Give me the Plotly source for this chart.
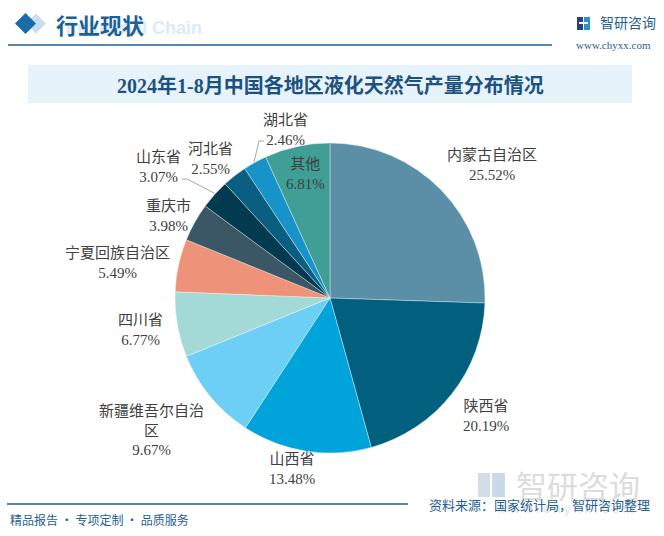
import plotly.graph_objects as go

# ---------------- data ----------------
regions = ["内蒙古自治区", "陕西省", "山西省", "新疆维吾尔自治区", "四川省", "宁夏回族自治区",
           "重庆市", "山东省", "河北省", "湖北省", "其他"]
shares = [25.52, 20.19, 13.48, 9.67, 6.77, 5.49, 3.98, 3.07, 2.55, 2.46, 6.81]
title_text = "2024年1-8月中国各地区液化天然气产量分布情况"

# ---------------- styles / layout ----------------
W, H = 664, 536
slice_colors = ["#5B8FA8", "#02607F", "#00A3DA", "#6DCFF6", "#A3D9D7", "#EF927A",
                "#3B5766", "#023A50", "#0A5F80", "#1793C9", "#3F9E95"]
# label display names (line breaks) and label block centers in pixels
label_names = {"新疆维吾尔自治区": "新疆维吾尔自治<br>区"}
label_pos_px = [(492, 165), (486, 416), (292, 469), (151, 430), (140, 330), (117, 263),
                (168, 216), (158, 167), (210, 159), (285, 130), (305, 174)]

CJK = "Noto Sans CJK SC"
LABEL_FONT = "Liberation Serif, Noto Sans CJK SC"
BLUE = "#1F5F93"


def px(x):
    return x / W


def py(y):
    return 1 - y / H


cx, cy, r = 330, 298, 155

fig = go.Figure()
fig.add_trace(go.Pie(
    labels=regions,
    values=shares,
    sort=False,
    direction="clockwise",
    rotation=0,
    textinfo="none",
    marker=dict(colors=slice_colors, line=dict(color="rgba(255,255,255,0.6)", width=0.6)),
    domain=dict(x=[px(cx - r), px(cx + r)], y=[py(cy + r), py(cy - r)]),
    showlegend=False,
))

annotations = []
shapes = []

# header watermark text
annotations.append(dict(x=px(204), y=py(28), xref="paper", yref="paper", xanchor="right", yanchor="middle",
                        text="<b>Industrial Chain</b>", showarrow=False,
                        font=dict(family="Liberation Sans, Arial", size=18, color="#DCEBF8")))
# header title
annotations.append(dict(x=px(54), y=py(24), xref="paper", yref="paper", xanchor="left", yanchor="middle",
                        text="<b>行业现状</b>", showarrow=False,
                        font=dict(family=CJK, size=22, color="#1B6199")))
# diamonds
shapes.append(dict(type="path", xref="paper", yref="paper", layer="above",
                   path=f"M {px(36)},{py(13.5)} L {px(46)},{py(23.5)} L {px(36)},{py(33.5)} L {px(26)},{py(23.5)} Z",
                   fillcolor="#C9DDEC", line=dict(width=0)))
shapes.append(dict(type="path", xref="paper", yref="paper", layer="above",
                   path=f"M {px(25.5)},{py(13)} L {px(36)},{py(23.5)} L {px(25.5)},{py(34)} L {px(15)},{py(23.5)} Z",
                   fillcolor="#1B6BA8", line=dict(width=0)))
# header line
shapes.append(dict(type="line", xref="paper", yref="paper", x0=px(8), x1=px(552), y0=py(45), y1=py(45),
                   line=dict(color=BLUE, width=1.5)))

# right logo
shapes.append(dict(type="rect", xref="paper", yref="paper", x0=px(577), x1=px(583), y0=py(17), y1=py(30),
                   fillcolor="#2B3E7E", line=dict(width=0)))
shapes.append(dict(type="rect", xref="paper", yref="paper", x0=px(584), x1=px(590), y0=py(17), y1=py(30),
                   fillcolor="#2E8FD0", line=dict(width=0)))
shapes.append(dict(type="rect", xref="paper", yref="paper", x0=px(579), x1=px(588), y0=py(22), y1=py(24),
                   fillcolor="white", line=dict(width=0)))
annotations.append(dict(x=px(598), y=py(22), xref="paper", yref="paper", xanchor="left", yanchor="middle",
                        text="智研咨询", showarrow=False, font=dict(family=CJK, size=14, color=BLUE)))
annotations.append(dict(x=px(613), y=py(45), xref="paper", yref="paper", xanchor="center", yanchor="middle",
                        text="www.chyxx.com", showarrow=False,
                        font=dict(family="Liberation Serif", size=11, color=BLUE)))

# title bar
shapes.append(dict(type="rect", xref="paper", yref="paper", x0=px(28), x1=px(632), y0=py(103), y1=py(65),
                   fillcolor="#E6F3FB", line=dict(width=0), layer="below"))
annotations.append(dict(x=px(330), y=py(86), xref="paper", yref="paper", xanchor="center", yanchor="middle",
                        text=f"<b>{title_text}</b>", showarrow=False,
                        font=dict(family="Liberation Serif, " + CJK, size=20, color="#1D527F")))

# bottom-right watermark
shapes.append(dict(type="rect", xref="paper", yref="paper", x0=px(478), x1=px(490), y0=py(473), y1=py(497),
                   fillcolor="#D3DDE7", line=dict(width=0), layer="below"))
shapes.append(dict(type="rect", xref="paper", yref="paper", x0=px(492), x1=px(505), y0=py(473), y1=py(497),
                   fillcolor="#C9D9EA", line=dict(width=0), layer="below"))
annotations.append(dict(x=px(514), y=py(484), xref="paper", yref="paper", xanchor="left", yanchor="middle",
                        text="智研咨询", showarrow=False, font=dict(family=CJK, size=31, color="#DCDCDC")))
annotations.append(dict(x=px(565), y=py(508), xref="paper", yref="paper", xanchor="center", yanchor="middle",
                        text="w w w . c h y x x . c o m", showarrow=False,
                        font=dict(family="Liberation Sans", size=13, color="#E3E3E3")))

# footer
shapes.append(dict(type="line", xref="paper", yref="paper", x0=px(7), x1=px(408), y0=py(504), y1=py(504),
                   line=dict(color=BLUE, width=1.5)))
annotations.append(dict(x=px(8), y=py(519), xref="paper", yref="paper", xanchor="left", yanchor="middle",
                        text="精品报告 · 专项定制 · 品质服务", showarrow=False,
                        font=dict(family=CJK, size=12, color=BLUE)))
annotations.append(dict(x=px(652), y=py(504), xref="paper", yref="paper", xanchor="right", yanchor="middle",
                        text="资料来源：国家统计局，智研咨询整理", showarrow=False,
                        font=dict(family=CJK, size=13, color=BLUE)))

# data labels
for name, v, (lx, ly) in zip(regions, shares, label_pos_px):
    disp = label_names.get(name, name)
    annotations.append(dict(x=px(lx), y=py(ly), xref="paper", yref="paper", xanchor="center", yanchor="middle",
                            text=f"{disp}<br>{v:.2f}%", showarrow=False,
                            font=dict(family=LABEL_FONT, size=15, color="#404040")))

# leader lines (山东省, 湖北省)
shapes.append(dict(type="path", xref="paper", yref="paper",
                   path=f"M {px(182)},{py(179)} L {px(187)},{py(179)} L {px(214)},{py(193)}",
                   line=dict(color="#A6A6A6", width=1)))
shapes.append(dict(type="path", xref="paper", yref="paper",
                   path=f"M {px(264)},{py(141)} L {px(259)},{py(141)} L {px(254)},{py(162)}",
                   line=dict(color="#A6A6A6", width=1)))

fig.update_layout(
    width=W, height=H,
    margin=dict(l=0, r=0, t=0, b=0),
    paper_bgcolor="white", plot_bgcolor="white",
    annotations=annotations, shapes=shapes,
)

fig.write_html("out.html", config={"displayModeBar": False},
               post_script="document.body.style.margin='0';document.body.style.padding='0';")
